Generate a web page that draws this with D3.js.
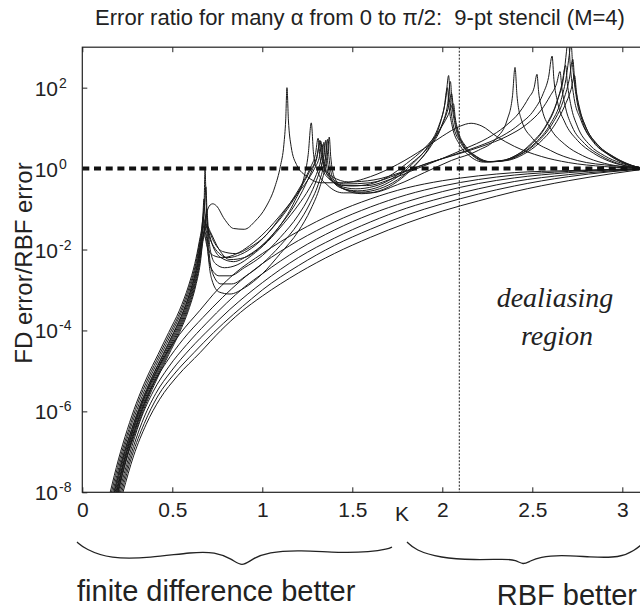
<!DOCTYPE html>
<html><head><meta charset="utf-8">
<script src="https://cdn.jsdelivr.net/npm/d3@7"></script>
<style>body{margin:0;background:#fff}svg{display:block}text{font-family:"Liberation Sans",Arial,sans-serif;fill:#222}</style>
</head><body>
<svg id="c" width="640" height="612"></svg>
<script>
const xTicks = [0, 0.5, 1, 1.5, 2, 2.5, 3];
const yTickExps = [-8, -6, -4, -2, 0, 2];
const titleText = "Error ratio for many \u03b1 from 0 to \u03c0/2:  9-pt stencil (M=4)";
const yLabel = "FD error/RBF error";
const xLabel = "K";
const dealiasK = 2.0944;
// each curve: [K, log10(FD error / RBF error)]
const curveB1 = [[0.155,-8],[0.2,-7.2],[0.25,-6.45],[0.3,-5.8],[0.36,-5.15],[0.42,-4.6],[0.48,-4.05],[0.54,-3.5],[0.59,-2.9],[0.625,-2.35],[0.65,-1.8],[0.668,-1.3],[0.677,-0.8],[0.682,0.0],[0.687,-0.7],[0.693,-1.5],[0.70,-2.1],[0.72,-2.75],[0.76,-3.05],[0.82,-3.1],[0.9,-2.95],[1.0,-2.6],[1.1,-2.1],[1.2,-1.55],[1.27,-1.0],[1.32,-0.45],[1.35,0.05],[1.363,0.4],[1.372,0.78],[1.38,0.3],[1.39,-0.05],[1.41,-0.3],[1.46,-0.52],[1.55,-0.62],[1.65,-0.55],[1.75,-0.32],[1.85,0.08],[1.93,0.55],[1.99,1.15],[2.02,1.75],[2.035,2.3],[2.045,1.6],[2.06,1.1],[2.1,0.65],[2.16,0.35],[2.24,0.17],[2.33,0.2],[2.42,0.35],[2.5,0.65],[2.58,1.1],[2.64,1.7],[2.675,2.3],[2.69,2.9],[2.70,3.3],[2.71,2.6],[2.73,1.8],[2.77,1.2],[2.84,0.65],[2.92,0.35],[3.0,0.15],[3.08,0.04],[3.1416,0]];
const curveB2 = [[0.169,-8],[0.214,-7.2],[0.265,-6.45],[0.317,-5.8],[0.378,-5.15],[0.438,-4.6],[0.498,-4.05],[0.555,-3.5],[0.602,-2.9],[0.634,-2.35],[0.656,-1.8],[0.667,-1.5],[0.678,-1.0],[0.687,-0.45],[0.692,-1.0],[0.698,-1.6],[0.705,-2.1],[0.725,-2.6],[0.77,-2.85],[0.83,-2.85],[0.91,-2.65],[1.0,-2.35],[1.1,-1.9],[1.2,-1.35],[1.26,-0.9],[1.31,-0.4],[1.34,0.05],[1.353,0.35],[1.362,0.72],[1.37,0.3],[1.38,-0.05],[1.40,-0.3],[1.45,-0.5],[1.55,-0.58],[1.65,-0.5],[1.75,-0.28],[1.85,0.1],[1.94,0.58],[2.0,1.1],[2.03,1.6],[2.045,2.15],[2.055,1.55],[2.07,1.1],[2.11,0.62],[2.17,0.33],[2.25,0.17],[2.34,0.2],[2.43,0.35],[2.52,0.65],[2.6,1.1],[2.66,1.7],[2.69,2.3],[2.705,2.8],[2.715,3.1],[2.725,2.5],[2.745,1.75],[2.78,1.15],[2.85,0.62],[2.93,0.33],[3.01,0.14],[3.08,0.04],[3.1416,0]];
const curveB3 = [[0.162,-8],[0.207,-7.2],[0.258,-6.45],[0.308,-5.8],[0.369,-5.15],[0.429,-4.6],[0.489,-4.05],[0.548,-3.5],[0.596,-2.9],[0.63,-2.35],[0.653,-1.8],[0.664,-1.5],[0.67,-1.15],[0.676,-0.75],[0.681,-1.1],[0.688,-1.6],[0.697,-2.05],[0.715,-2.45],[0.76,-2.65],[0.82,-2.65],[0.9,-2.45],[1.0,-2.15],[1.1,-1.7],[1.2,-1.15],[1.26,-0.7],[1.3,-0.3],[1.33,0.1],[1.345,0.4],[1.352,0.7],[1.36,0.3],[1.37,-0.05],[1.39,-0.3],[1.44,-0.48],[1.53,-0.55],[1.63,-0.48],[1.73,-0.27],[1.83,0.1],[1.92,0.55],[1.98,1.05],[2.01,1.5],[2.028,2.0],[2.038,1.5],[2.055,1.05],[2.095,0.6],[2.15,0.32],[2.23,0.16],[2.32,0.18],[2.41,0.33],[2.5,0.62],[2.57,1.0],[2.63,1.55],[2.665,2.1],[2.685,2.55],[2.695,2.1],[2.715,1.55],[2.75,1.05],[2.82,0.58],[2.9,0.32],[2.99,0.14],[3.07,0.04],[3.1416,0]];
const curveB4 = [[0.182,-8],[0.227,-7.2],[0.28,-6.45],[0.333,-5.8],[0.396,-5.15],[0.456,-4.6],[0.516,-4.05],[0.57,-3.5],[0.614,-2.9],[0.643,-2.35],[0.662,-1.8],[0.674,-1.6],[0.684,-1.3],[0.692,-1.0],[0.697,-1.3],[0.704,-1.75],[0.715,-2.1],[0.74,-2.35],[0.79,-2.45],[0.86,-2.38],[0.94,-2.15],[1.03,-1.8],[1.12,-1.35],[1.2,-0.9],[1.26,-0.5],[1.3,-0.15],[1.325,0.2],[1.335,0.4],[1.342,0.65],[1.35,0.3],[1.36,0.0],[1.38,-0.25],[1.43,-0.43],[1.52,-0.5],[1.62,-0.44],[1.72,-0.25],[1.82,0.1],[1.92,0.52],[1.99,1.0],[2.03,1.45],[2.052,1.85],[2.062,1.45],[2.08,1.0],[2.12,0.58],[2.18,0.32],[2.26,0.17],[2.35,0.2],[2.44,0.36],[2.53,0.66],[2.61,1.1],[2.67,1.65],[2.705,2.2],[2.725,2.7],[2.735,2.2],[2.755,1.6],[2.79,1.1],[2.86,0.6],[2.94,0.32],[3.02,0.13],[3.09,0.03],[3.1416,0]];
const curveB5 = [[0.175,-8],[0.22,-7.2],[0.273,-6.45],[0.325,-5.8],[0.387,-5.15],[0.447,-4.6],[0.507,-4.05],[0.5625,-3.5],[0.608,-2.9],[0.6385,-2.35],[0.659,-1.8],[0.665,-1.6],[0.672,-1.2],[0.678,-1.5],[0.687,-1.8],[0.70,-2.0],[0.73,-2.15],[0.78,-2.2],[0.85,-2.12],[0.93,-1.9],[1.02,-1.55],[1.11,-1.1],[1.19,-0.65],[1.25,-0.3],[1.29,0.0],[1.315,0.25],[1.332,0.6],[1.34,0.25],[1.35,-0.02],[1.37,-0.22],[1.42,-0.38],[1.5,-0.43],[1.6,-0.38],[1.7,-0.2],[1.8,0.12],[1.9,0.5],[1.98,0.92],[2.03,1.3],[2.062,1.6],[2.072,1.25],[2.09,0.9],[2.13,0.55],[2.19,0.3],[2.27,0.17],[2.36,0.2],[2.45,0.35],[2.54,0.64],[2.62,1.05],[2.68,1.55],[2.715,1.95],[2.735,2.3],[2.745,1.9],[2.765,1.45],[2.8,1.0],[2.87,0.56],[2.95,0.3],[3.03,0.12],[3.09,0.03],[3.1416,0]];
const curveS1 = [[0.178,-8],[0.223,-7.2],[0.275,-6.45],[0.328,-5.8],[0.39,-5.15],[0.45,-4.6],[0.51,-4.05],[0.565,-3.5],[0.61,-2.9],[0.64,-2.35],[0.66,-1.8],[0.675,-1.4],[0.69,-1.1],[0.71,-0.9],[0.725,-0.87],[0.745,-0.92],[0.79,-1.25],[0.84,-1.48],[0.9,-1.5],[0.96,-1.3],[1.02,-0.95],[1.07,-0.45],[1.10,0.05],[1.12,0.6],[1.13,1.2],[1.137,2.0],[1.145,1.2],[1.16,0.55],[1.19,0.1],[1.25,-0.2],[1.33,-0.35],[1.45,-0.35],[1.6,-0.2],[1.75,0.1],[1.9,0.5],[2.0,0.8],[2.1,1.05],[2.16,1.12],[2.22,1.05],[2.3,0.8],[2.4,0.55],[2.55,0.3],[2.7,0.15],[2.9,0.05],[3.1416,0]];
const curveS2 = [[0.186,-8],[0.232,-7.2],[0.285,-6.45],[0.339,-5.8],[0.402,-5.15],[0.462,-4.6],[0.522,-4.05],[0.575,-3.5],[0.618,-2.9],[0.646,-2.35],[0.664,-1.8],[0.675,-1.6],[0.685,-1.45],[0.695,-1.42],[0.71,-1.55],[0.76,-2.0],[0.82,-2.25],[0.9,-2.2],[1.0,-1.9],[1.1,-1.4],[1.18,-0.8],[1.23,-0.25],[1.255,0.35],[1.272,1.13],[1.285,0.35],[1.31,-0.1],[1.36,-0.4],[1.45,-0.6],[1.6,-0.6],[1.75,-0.4],[1.9,-0.1],[2.05,0.2],[2.2,0.45],[2.3,0.75],[2.36,1.2],[2.39,1.8],[2.404,2.5],[2.415,1.8],[2.44,1.2],[2.5,0.75],[2.6,0.45],[2.75,0.2],[2.95,0.07],[3.1416,0]];
const curveS3 = [[0.191,-8],[0.236,-7.2],[0.29,-6.45],[0.344,-5.8],[0.408,-5.15],[0.468,-4.6],[0.528,-4.05],[0.58,-3.5],[0.622,-2.9],[0.649,-2.35],[0.666,-1.8],[0.68,-1.55],[0.69,-1.45],[0.70,-1.5],[0.73,-1.8],[0.78,-2.05],[0.85,-2.1],[0.93,-1.95],[1.02,-1.65],[1.1,-1.2],[1.17,-0.75],[1.23,-0.3],[1.27,0.05],[1.295,0.35],[1.31,0.75],[1.32,0.3],[1.335,0.0],[1.37,-0.25],[1.45,-0.42],[1.58,-0.42],[1.72,-0.25],[1.86,0.0],[2.0,0.25],[2.13,0.5],[2.25,0.75],[2.35,1.05],[2.43,1.4],[2.48,1.75],[2.51,2.0],[2.526,2.33],[2.535,1.9],[2.555,1.45],[2.6,1.0],[2.68,0.6],[2.78,0.32],[2.9,0.13],[3.02,0.04],[3.1416,0]];
const curveS4 = [[0.1955,-8],[0.2405,-7.2],[0.295,-6.45],[0.3495,-5.8],[0.414,-5.15],[0.474,-4.6],[0.534,-4.05],[0.585,-3.5],[0.626,-2.9],[0.652,-2.35],[0.668,-1.8],[0.678,-1.5],[0.685,-1.35],[0.695,-1.45],[0.72,-1.85],[0.77,-2.2],[0.84,-2.3],[0.92,-2.15],[1.01,-1.85],[1.1,-1.4],[1.18,-0.9],[1.24,-0.4],[1.28,0.0],[1.305,0.3],[1.32,0.7],[1.33,0.3],[1.345,0.0],[1.38,-0.22],[1.46,-0.38],[1.6,-0.35],[1.75,-0.15],[1.9,0.1],[2.05,0.32],[2.2,0.55],[2.33,0.8],[2.43,1.1],[2.51,1.45],[2.56,1.85],[2.59,2.25],[2.61,2.78],[2.62,2.2],[2.64,1.65],[2.68,1.15],[2.75,0.7],[2.84,0.38],[2.94,0.16],[3.04,0.05],[3.1416,0]];
const curveS5 = [[0.2,-8],[0.245,-7.2],[0.3,-6.45],[0.355,-5.8],[0.42,-5.15],[0.48,-4.6],[0.54,-4.05],[0.59,-3.5],[0.63,-2.9],[0.655,-2.35],[0.67,-1.8],[0.68,-1.65],[0.693,-1.55],[0.71,-1.75],[0.75,-2.05],[0.81,-2.2],[0.88,-2.12],[0.96,-1.9],[1.05,-1.5],[1.14,-1.0],[1.21,-0.5],[1.26,-0.1],[1.3,0.25],[1.325,0.68],[1.335,0.28],[1.35,0.0],[1.39,-0.2],[1.48,-0.33],[1.62,-0.28],[1.78,-0.08],[1.93,0.15],[2.08,0.35],[2.22,0.55],[2.36,0.8],[2.47,1.1],[2.55,1.45],[2.6,1.8],[2.635,2.1],[2.654,2.4],[2.664,2.0],[2.685,1.5],[2.72,1.05],[2.79,0.62],[2.88,0.32],[2.98,0.12],[3.06,0.03],[3.1416,0]];
const curveA1 = [[0.19,-8],[0.24,-7.1],[0.3,-6.2],[0.37,-5.4],[0.45,-4.7],[0.54,-4.1],[0.654,-3.5],[0.75,-3.0],[0.85,-2.58],[1.0,-2.1],[1.2,-1.55],[1.4,-1.1],[1.6,-0.75],[1.8,-0.48],[2.0,-0.3],[2.2,-0.18],[2.4,-0.1],[2.7,-0.05],[3.1416,0]];
const curveA2 = [[0.197,-8],[0.25,-7.1],[0.31,-6.22],[0.38,-5.45],[0.465,-4.8],[0.56,-4.22],[0.67,-3.68],[0.78,-3.18],[0.88,-2.77],[1.0,-2.35],[1.2,-1.78],[1.4,-1.32],[1.6,-0.95],[1.8,-0.65],[2.0,-0.43],[2.2,-0.27],[2.4,-0.16],[2.7,-0.07],[3.1416,0]];
const curveA3 = [[0.205,-8],[0.26,-7.1],[0.32,-6.25],[0.395,-5.5],[0.48,-4.9],[0.58,-4.35],[0.69,-3.82],[0.8,-3.33],[0.9,-2.93],[1.0,-2.6],[1.2,-2.0],[1.4,-1.52],[1.6,-1.13],[1.8,-0.82],[2.0,-0.57],[2.2,-0.37],[2.4,-0.23],[2.7,-0.1],[3.1416,0]];
const curveA4 = [[0.212,-8],[0.268,-7.1],[0.332,-6.27],[0.408,-5.56],[0.495,-5.0],[0.6,-4.45],[0.71,-3.95],[0.82,-3.48],[0.92,-3.1],[1.0,-2.82],[1.2,-2.2],[1.4,-1.72],[1.6,-1.32],[1.8,-0.98],[2.0,-0.72],[2.2,-0.5],[2.4,-0.32],[2.7,-0.15],[3.1416,0]];
const curveA5 = [[0.219,-8],[0.276,-7.1],[0.344,-6.3],[0.42,-5.62],[0.51,-5.08],[0.62,-4.55],[0.73,-4.05],[0.84,-3.6],[0.94,-3.22],[1.0,-3.0],[1.2,-2.4],[1.4,-1.9],[1.6,-1.5],[1.8,-1.15],[2.0,-0.87],[2.2,-0.63],[2.4,-0.43],[2.7,-0.2],[3.1416,0]];
const curveA6 = [[0.226,-8],[0.285,-7.1],[0.355,-6.32],[0.43,-5.7],[0.53,-5.12],[0.654,-4.55],[0.77,-4.0],[0.88,-3.55],[1.0,-3.15],[1.2,-2.58],[1.4,-2.1],[1.6,-1.7],[1.8,-1.35],[2.0,-1.05],[2.2,-0.8],[2.4,-0.57],[2.7,-0.3],[2.95,-0.12],[3.1416,0]];
const curves = [curveA1,curveA2,curveA3,curveA4,curveA5,curveA6,curveS1,curveS2,curveS3,curveS4,curveS5,curveB1,curveB2,curveB3,curveB4,curveB5];

const svg = d3.select("#c");
const x = d3.scaleLinear().domain([0, Math.PI]).range([82.3, 647.8]);
const y = d3.scaleLog().domain([1e-8, 1e3]).range([492.3, 47.2]);
const L = 82.3, R = 647.8, T = 47.2, B = 492.3;

svg.append("defs").append("clipPath").attr("id","clip").append("rect")
  .attr("x",L).attr("y",T).attr("width",R-L).attr("height",B-T);

const g = svg.append("g").attr("clip-path","url(#clip)");
g.append("line").attr("x1",x(dealiasK)).attr("x2",x(dealiasK)).attr("y1",T).attr("y2",B)
  .attr("stroke","#222").attr("stroke-width",1).attr("stroke-dasharray","2,1.5");
const line = d3.line().x(d=>x(d[0])).y(d=>y(Math.pow(10,d[1]))).curve(d3.curveMonotoneX);
g.selectAll("path.c").data(curves).join("path").attr("class","c")
  .attr("d",line).attr("fill","none").attr("stroke","#1a1a1a").attr("stroke-width",1);
g.append("line").attr("x1",L).attr("x2",R).attr("y1",y(1)).attr("y2",y(1))
  .attr("stroke","#111").attr("stroke-width",4).attr("stroke-dasharray","7,4.7");

svg.append("rect").attr("x",L).attr("y",T).attr("width",R-L).attr("height",B-T)
  .attr("fill","none").attr("stroke","#222").attr("stroke-width",1.2);
const ax = svg.append("g").attr("transform",`translate(0,${B})`).call(d3.axisBottom(x).tickValues(xTicks).tickSize(-5).tickFormat(d3.format("")).tickPadding(10));
const axt = svg.append("g").attr("transform",`translate(0,${T})`).call(d3.axisTop(x).tickValues(xTicks).tickSize(-5).tickFormat(""));
const ay = svg.append("g").attr("transform",`translate(${L},0)`).call(d3.axisLeft(y).tickValues(yTickExps.map(e=>Math.pow(10,e))).tickSize(-5).tickFormat(""));
[ax,axt,ay].forEach(a=>{a.select(".domain").remove();a.selectAll(".tick line").attr("stroke","#222");});
ax.selectAll(".tick text").attr("font-size",21).attr("fill","#222").attr("font-family","Liberation Sans, Arial, sans-serif");
const yl = svg.append("g");
yTickExps.forEach(e=>{
  yl.append("text").attr("x",58).attr("y",y(Math.pow(10,e))+8).attr("font-size",21).attr("text-anchor","end").text("10");
  yl.append("text").attr("x",59).attr("y",y(Math.pow(10,e))).attr("font-size",14).text(String(e));
});
svg.append("text").attr("x",402).attr("y",521).attr("font-size",21).attr("text-anchor","middle").text(xLabel);
svg.append("text").attr("x",360).attr("y",25).attr("font-size",22).attr("text-anchor","middle").style("white-space","pre").text(titleText);
svg.append("text").attr("transform","translate(32,263) rotate(-90)").attr("font-size",24).attr("text-anchor","middle").text(yLabel);
svg.append("text").attr("x",555).attr("y",307).attr("font-size",28).attr("text-anchor","middle").attr("font-style","italic").style("font-family","Liberation Serif, serif").text("dealiasing");
svg.append("text").attr("x",557).attr("y",345).attr("font-size",28).attr("text-anchor","middle").attr("font-style","italic").style("font-family","Liberation Serif, serif").text("region");

const braceLine = d3.line().curve(d3.curveBasis);
const brace1 = [[77,542],[85,549],[110,559],[150,558],[193,552],[215,552],[232,559],[242,567],[252,559],[268,552],[300,550],[340,553],[370,552],[388,549],[392,547]];
const brace2 = [[407,542],[415,550],[440,558],[475,560],[505,559],[516,560],[523,565],[530,561],[540,557],[560,555],[590,557],[620,558],[635,550],[641,545]];
[brace1,brace2].forEach(b=>svg.append("path").attr("d",braceLine(b)).attr("fill","none").attr("stroke","#222").attr("stroke-width",1.3));
svg.append("text").attr("x",77).attr("y",601).attr("font-size",29).text("finite difference better");
svg.append("text").attr("x",637).attr("y",605).attr("font-size",29).attr("text-anchor","end").text("RBF better");
</script>
</body></html>
